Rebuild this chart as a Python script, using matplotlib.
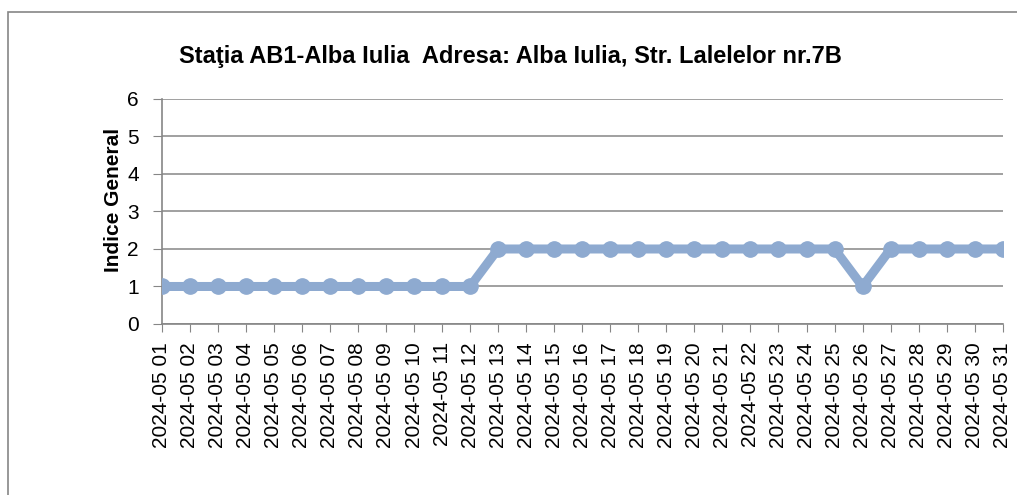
import matplotlib.pyplot as plt
from matplotlib.patches import Rectangle

days = [f'2024-05 {d:02d}' for d in range(1, 32)]
values = [1, 1, 1, 1, 1, 1, 1, 1, 1, 1, 1, 1,
          2, 2, 2, 2, 2, 2, 2, 2, 2, 2, 2, 2, 2,
          1, 2, 2, 2, 2, 2]

title = 'Staţia AB1-Alba Iulia  Adresa: Alba Iulia, Str. Lalelelor nr.7B'
ylabel = 'Indice General'

plt.rcParams['font.family'] = ['Liberation Sans', 'DejaVu Sans']

fig = plt.figure(figsize=(10.17, 4.95), dpi=100)
ax = fig.add_axes([0.159, 0.3455, 0.827, 0.4545])

x = list(range(len(days)))
ax.plot(x, values, color='#8eaad0', linewidth=6.5, marker='o',
        markersize=11, solid_joinstyle='round', zorder=3)

ax.set_xlim(0, len(days) - 1)
ax.set_ylim(0, 6)
ax.set_yticks(range(7))
ax.set_xticks(x)
ax.set_xticklabels(days, rotation=90, fontsize=15)
ax.tick_params(axis='y', labelsize=15, length=6.5, color='#868686', pad=10)
ax.tick_params(axis='x', length=6, color='#868686', pad=7)
ax.yaxis.grid(True, color='#868686', linewidth=1.1)
ax.set_axisbelow(True)
for side in ['top', 'right']:
    ax.spines[side].set_visible(False)
for side in ['left', 'bottom']:
    ax.spines[side].set_color('#868686')
    ax.spines[side].set_linewidth(1.2)

ax.set_ylabel(ylabel, fontsize=15, fontweight='bold')
ax.yaxis.set_label_coords(-0.046, 0.55)
fig.text(0.502, 0.885, title, ha='center', va='center',
         fontsize=17, fontweight='bold')

fig.patches.append(Rectangle((0.0079, -0.2), 1.5, 1.176,
                             transform=fig.transFigure, fill=False,
                             edgecolor='#868686', linewidth=1.2))

fig.savefig('out.png')
